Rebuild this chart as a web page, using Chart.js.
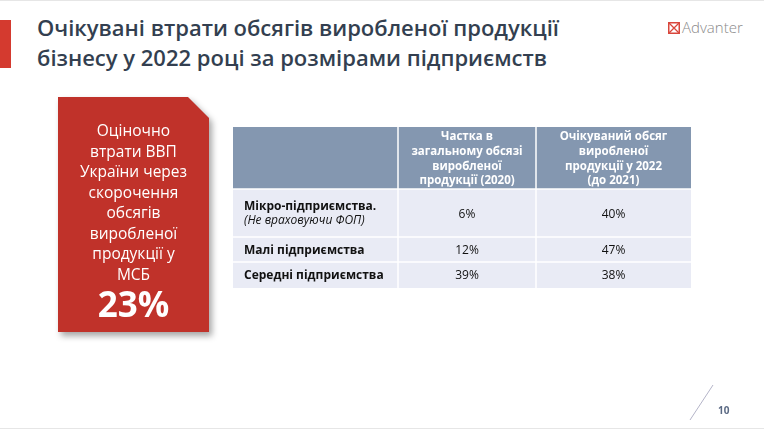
<!DOCTYPE html>
<html lang="uk">
<head>
<meta charset="utf-8">
<script src="https://cdn.jsdelivr.net/npm/chart.js@4.4.1/dist/chart.umd.min.js"></script>
<style>
    html, body { margin: 0; padding: 0; background: #fff; }
    #slide { position: relative; width: 764px; height: 430px; overflow: hidden; background: #fff; font-family: "Open Sans", sans-serif; }
    .edge { position: absolute; left: 0; width: 764px; height: 1px; background: #e6e6e6; }
    #accent { position: absolute; left: 0; top: 20px; width: 11px; height: 48px; background: #d43a2f; }
    #title { position: absolute; left: 37px; top: 12px; margin: 0; font-size: 22px; line-height: 30px; font-weight: 600; color: #333f50; white-space: nowrap; }
    #logo { position: absolute; left: 668px; top: 17px; font-size: 15px; color: #8a8a8a; font-family: "Open Sans", sans-serif; font-weight: 300; }
    #logo svg { vertical-align: -1px; margin-right: 2px; }
    #boxWrap { position: absolute; left: 58px; top: 97px; width: 151px; height: 235px; filter: drop-shadow(3px 4px 3px rgba(0,0,0,0.35)); }
    #box { width: 100%; height: 100%; background: #c0322a; clip-path: polygon(0 0, 130px 0, 151px 21px, 151px 100%, 0 100%); color: #fff; text-align: center; }
    #boxText { position: absolute; left: 0; top: 23px; width: 151px; font-size: 15.5px; line-height: 20.5px; }
    #boxValue { position: absolute; left: 0; top: 185px; width: 151px; font-size: 35px; line-height: 44px; font-weight: 700; }
    #tableWrap { position: absolute; left: 233px; top: 127px; width: 458px; height: 161px; }
    #slash { position: absolute; left: 0; top: 0; }
    #page { position: absolute; left: 718px; top: 403px; font-size: 10px; font-weight: 700; color: #5b6a84; }
</style>
</head>
<body>
<div id="slide">
    <div class="edge" style="top:0"></div>
    <div class="edge" style="top:428px"></div>
    <div id="accent"></div>
    <h1 id="title">Очікувані втрати обсягів виробленої продукції<br>бізнесу у 2022 році за розмірами підприємств</h1>
    <div id="logo"><svg width="12" height="12" viewBox="0 0 12 12"><rect x="0.75" y="0.75" width="10.5" height="10.5" fill="none" stroke="#d9473c" stroke-width="1.5"/><path d="M1 1 L11 11 M11 1 L1 11" stroke="#d9473c" stroke-width="1.3"/></svg>Advanter</div>
    <div id="boxWrap">
        <div id="box">
            <div id="boxText">Оціночно<br>втрати ВВП<br>України через<br>скорочення<br>обсягів<br>виробленої<br>продукції у<br>МСБ</div>
            <div id="boxValue">23%</div>
        </div>
    </div>
    <div id="tableWrap"><canvas id="tableChart"></canvas></div>
    <svg id="slash" width="764" height="430"><line x1="690" y1="420" x2="713" y2="385" stroke="#b4b4c8" stroke-width="1"/></svg>
    <div id="page">10</div>
</div>

<script>
// Дані таблиці

const rowLabels = ['Мікро-підприємства.', 'Малі підприємства', 'Середні підприємства'];
const rowNotes = ['(Не враховуючи ФОП)', '', ''];
const columnHeaders = [
    ['Частка в', 'загальному обсязі', 'виробленої', 'продукції (2020)'],
    ['Очікуваний обсяг', 'виробленої', 'продукції у 2022', '(до 2021)']
];
const share2020 = [6, 12, 39];
const expected2022 = [40, 47, 38];

// Плагін, що малює клітинки таблиці

const tablePlugin = {
    id: 'tableCells',
    afterDraw(chart, args, opts) {
        const ctx = chart.ctx;
        const xScale = chart.scales.x;
        const yScale = chart.scales.y;

        // межі колонок і рядків у частках області графіка
        const colEdges = [0];
        opts.colWeights.forEach(w => colEdges.push(colEdges[colEdges.length - 1] + w));
        const rowEdges = [0];
        opts.rowWeights.forEach(w => rowEdges.push(rowEdges[rowEdges.length - 1] + w));
        const colTotal = colEdges[colEdges.length - 1];
        const rowTotal = rowEdges[rowEdges.length - 1];
        const xs = colEdges.map(v => xScale.getPixelForValue(v / colTotal));
        const ys = rowEdges.map(v => yScale.getPixelForValue(v / rowTotal));

        ctx.save();

        // фон
        for (let r = 0; r < ys.length - 1; r++) {
            ctx.fillStyle = r === 0 ? opts.headerColor : opts.rowColor;
            ctx.fillRect(xs[0], ys[r], xs[xs.length - 1] - xs[0], ys[r + 1] - ys[r]);
        }

        // білі роздільники
        ctx.strokeStyle = '#ffffff';
        ctx.lineWidth = 1.5;
        for (let c = 1; c < xs.length - 1; c++) {
            ctx.beginPath();
            ctx.moveTo(xs[c], ys[0]);
            ctx.lineTo(xs[c], ys[ys.length - 1]);
            ctx.stroke();
        }
        for (let r = 1; r < ys.length - 1; r++) {
            ctx.beginPath();
            ctx.moveTo(xs[0], ys[r]);
            ctx.lineTo(xs[xs.length - 1], ys[r]);
            ctx.stroke();
        }

        // заголовки колонок
        ctx.fillStyle = '#ffffff';
        ctx.font = 'bold 11.5px "Open Sans"';
        ctx.textAlign = 'center';
        ctx.textBaseline = 'middle';
        const headerLine = 14.8;
        chart.data.datasets.forEach((ds, i) => {
            const cx = (xs[i + 1] + xs[i + 2]) / 2;
            const lines = ds.header;
            const cy = (ys[0] + ys[1]) / 2 + 1 - (lines.length - 1) * headerLine / 2;
            lines.forEach((t, k) => ctx.fillText(t, cx, cy + k * headerLine));
        });

        // рядки
        chart.data.labels.forEach((label, r) => {
            const cy = (ys[r + 1] + ys[r + 2]) / 2 + 1;
            const note = opts.notes[r];
            ctx.fillStyle = '#111111';
            ctx.textAlign = 'left';
            ctx.font = 'bold 12px "Open Sans"';
            if (note) {
                ctx.fillText(label, xs[0] + 11, cy - 7.5);
                ctx.font = 'italic 12px "Open Sans"';
                ctx.fillText(note, xs[0] + 11, cy + 7);
            } else {
                ctx.fillText(label, xs[0] + 11, cy);
            }
            ctx.textAlign = 'center';
            ctx.font = '12px "Open Sans"';
            chart.data.datasets.forEach((ds, i) => {
                const cx = (xs[i + 1] + xs[i + 2]) / 2;
                ctx.fillText(ds.data[r] + '%', cx, cy + (note ? 1 : 0));
            });
        });

        ctx.restore();
    }
};

const tableChart = document.getElementById('tableChart');
const tableData = {
    labels: rowLabels,
    datasets: [
        { label: 'share2020', header: columnHeaders[0], data: share2020, backgroundColor: 'rgba(0,0,0,0)' },
        { label: 'expected2022', header: columnHeaders[1], data: expected2022, backgroundColor: 'rgba(0,0,0,0)' }
    ]
};

new Chart(tableChart, {
    type: 'bar',
    data: tableData,
    options: {
        responsive: true,
        maintainAspectRatio: false,
        animation: false,
        events: [],
        layout: { padding: 0 },
        scales: {
            x: { type: 'linear', display: false, offset: false, min: 0, max: 1 },
            y: { type: 'linear', display: false, offset: false, min: 0, max: 1, reverse: true }
        },
        plugins: {
            legend: { display: false },
            tooltip: { enabled: false },
            tableCells: {
                colWeights: [165, 138, 155],
                rowWeights: [62, 48, 25, 26],
                headerColor: '#8497b0',
                rowColor: '#e9ebf5',
                notes: rowNotes
            }
        }
    },
    plugins: [tablePlugin]
});
</script>
</body>
</html>
